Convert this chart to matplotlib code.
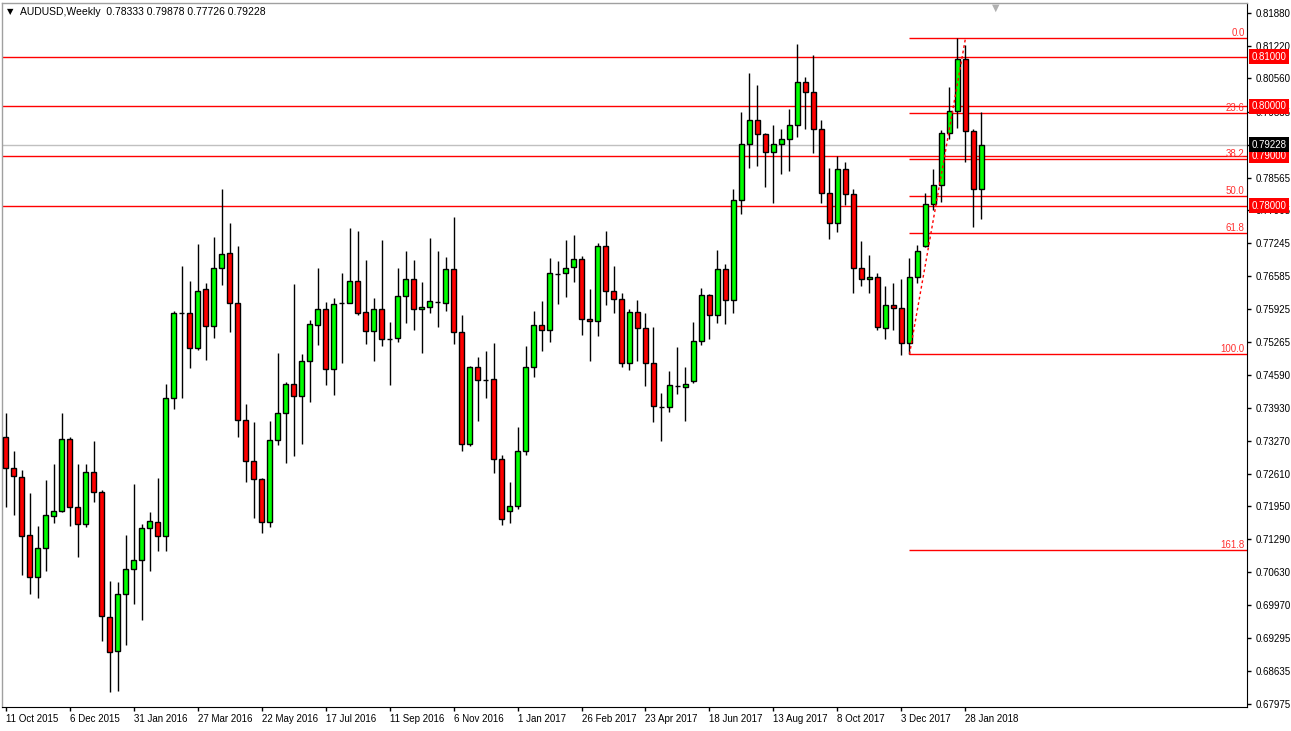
import matplotlib
matplotlib.use("Agg")
import matplotlib.pyplot as plt
import matplotlib.transforms as mtransforms

# weekly AUDUSD candles, first bar = week of 11 Oct 2015
opens = [0.7334, 0.7272, 0.7253, 0.7137, 0.7052, 0.7111, 0.7176, 0.7185, 0.7330, 0.7193,
         0.7159, 0.7265, 0.7223, 0.6972, 0.6903, 0.7018, 0.7068, 0.7086, 0.7151, 0.7163,
         0.7136, 0.7412, 0.7583, 0.7583, 0.7513, 0.7633, 0.7558, 0.7674, 0.7704, 0.7604,
         0.7368, 0.7287, 0.7249, 0.7164, 0.7328, 0.7382, 0.7442, 0.7416, 0.7487, 0.7559,
         0.7593, 0.7471, 0.7604, 0.7605, 0.7648, 0.7585, 0.7547, 0.7591, 0.7532, 0.7533,
         0.7618, 0.7652, 0.7593, 0.7597, 0.7607, 0.7605, 0.7672, 0.7545, 0.7321, 0.7475,
         0.7449, 0.7451, 0.7290, 0.7186, 0.7195, 0.7306, 0.7475, 0.7559, 0.7549, 0.7663,
         0.7664, 0.7676, 0.7692, 0.7571, 0.7567, 0.7718, 0.7628, 0.7612, 0.7483, 0.7585,
         0.7553, 0.7483, 0.7395, 0.7394, 0.7438, 0.7436, 0.7448, 0.7527, 0.7620, 0.7579,
         0.7672, 0.7610, 0.7811, 0.7923, 0.7972, 0.7944, 0.7907, 0.7925, 0.7935, 0.7962,
         0.8048, 0.8028, 0.7954, 0.7825, 0.7766, 0.7873, 0.7823, 0.7674, 0.7652, 0.7656,
         0.7553, 0.7601, 0.7595, 0.7523, 0.7656, 0.7718, 0.7803, 0.7841, 0.7946, 0.7990,
         0.8096, 0.7950, 0.78333]
highs = [0.7382, 0.7306, 0.7268, 0.7221, 0.7155, 0.7248, 0.7280, 0.7382, 0.7334, 0.7280,
         0.7280, 0.7326, 0.7228, 0.7044, 0.7043, 0.7138, 0.7240, 0.7159, 0.7183, 0.7251,
         0.7441, 0.7587, 0.7678, 0.7649, 0.7723, 0.7644, 0.7737, 0.7833, 0.7765, 0.7719,
         0.7401, 0.7364, 0.7251, 0.7366, 0.7503, 0.7445, 0.7642, 0.7502, 0.7569, 0.7674,
         0.7606, 0.7614, 0.7664, 0.7755, 0.7749, 0.7690, 0.7614, 0.7731, 0.7566, 0.7674,
         0.7709, 0.7690, 0.7646, 0.7735, 0.7709, 0.7697, 0.7777, 0.7579, 0.7477, 0.7495,
         0.7507, 0.7523, 0.7298, 0.7243, 0.7354, 0.7517, 0.7587, 0.7608, 0.7694, 0.7688,
         0.7730, 0.7740, 0.7698, 0.7633, 0.7724, 0.7748, 0.7678, 0.7624, 0.7593, 0.7610,
         0.7583, 0.7555, 0.7422, 0.7467, 0.7515, 0.7475, 0.7566, 0.7634, 0.7622, 0.7710,
         0.7682, 0.7833, 0.7988, 0.8067, 0.8043, 0.7946, 0.7962, 0.7954, 0.7995, 0.8125,
         0.8059, 0.8103, 0.7973, 0.7875, 0.7899, 0.7888, 0.7833, 0.7728, 0.7700, 0.7664,
         0.7638, 0.7644, 0.7652, 0.7694, 0.7720, 0.7825, 0.7874, 0.7952, 0.8038, 0.8137,
         0.8124, 0.7954, 0.79878]
lows = [0.7194, 0.7178, 0.7057, 0.7019, 0.7010, 0.7065, 0.7162, 0.7183, 0.7155, 0.7094,
        0.7154, 0.7204, 0.6923, 0.6822, 0.6824, 0.6915, 0.6999, 0.6966, 0.7065, 0.7106,
        0.7106, 0.7391, 0.7412, 0.7474, 0.7509, 0.7490, 0.7533, 0.7641, 0.7546, 0.7335,
        0.7243, 0.7172, 0.7142, 0.7154, 0.7318, 0.7283, 0.7296, 0.7321, 0.7405, 0.7520,
        0.7440, 0.7419, 0.7484, 0.7604, 0.7580, 0.7522, 0.7488, 0.7518, 0.7440, 0.7526,
        0.7563, 0.7550, 0.7504, 0.7584, 0.7556, 0.7587, 0.7522, 0.7307, 0.7317, 0.7367,
        0.7412, 0.7263, 0.7157, 0.7161, 0.7189, 0.7299, 0.7455, 0.7508, 0.7526, 0.7603,
        0.7617, 0.7646, 0.7540, 0.7488, 0.7538, 0.7601, 0.7584, 0.7476, 0.7470, 0.7488,
        0.7438, 0.7365, 0.7327, 0.7385, 0.7420, 0.7367, 0.7444, 0.7520, 0.7532, 0.7564,
        0.7562, 0.7584, 0.7784, 0.7876, 0.7880, 0.7838, 0.7806, 0.7864, 0.7870, 0.7939,
        0.7955, 0.7906, 0.7805, 0.7732, 0.7746, 0.7802, 0.7624, 0.7638, 0.7625, 0.7550,
        0.7531, 0.7549, 0.7500, 0.7501, 0.7644, 0.7716, 0.7791, 0.7807, 0.7935, 0.7956,
        0.7888, 0.7758, 0.77726]
closes = [0.7272, 0.7255, 0.7136, 0.7053, 0.7111, 0.7177, 0.7185, 0.7330, 0.7193, 0.7159,
          0.7265, 0.7223, 0.6974, 0.6901, 0.7018, 0.7068, 0.7086, 0.7151, 0.7165, 0.7136,
          0.7412, 0.7583, 0.7583, 0.7513, 0.7629, 0.7557, 0.7674, 0.7702, 0.7604, 0.7368,
          0.7287, 0.7249, 0.7164, 0.7328, 0.7382, 0.7442, 0.7416, 0.7487, 0.7561, 0.7593,
          0.7471, 0.7603, 0.7604, 0.7648, 0.7584, 0.7547, 0.7591, 0.7531, 0.7532, 0.7618,
          0.7652, 0.7593, 0.7597, 0.7608, 0.7607, 0.7672, 0.7545, 0.7321, 0.7475, 0.7449,
          0.7449, 0.7290, 0.7169, 0.7195, 0.7306, 0.7475, 0.7559, 0.7549, 0.7664, 0.7663,
          0.7674, 0.7692, 0.7571, 0.7567, 0.7718, 0.7628, 0.7612, 0.7483, 0.7585, 0.7553,
          0.7483, 0.7396, 0.7395, 0.7439, 0.7438, 0.7442, 0.7527, 0.7620, 0.7579, 0.7672,
          0.7610, 0.7811, 0.7923, 0.7972, 0.7944, 0.7907, 0.7925, 0.7935, 0.7962, 0.8048,
          0.8028, 0.7954, 0.7825, 0.7766, 0.7873, 0.7823, 0.7674, 0.7652, 0.7656, 0.7555,
          0.7601, 0.7595, 0.7523, 0.7656, 0.7708, 0.7803, 0.7841, 0.7946, 0.7990, 0.8096,
          0.7950, 0.7833, 0.79228]

date_labels = ["11 Oct 2015", "6 Dec 2015", "31 Jan 2016", "27 Mar 2016", "22 May 2016",
               "17 Jul 2016", "11 Sep 2016", "6 Nov 2016", "1 Jan 2017", "26 Feb 2017",
               "23 Apr 2017", "18 Jun 2017", "13 Aug 2017", "8 Oct 2017", "3 Dec 2017",
               "28 Jan 2018"]
price_ticks = [0.81880, 0.81220, 0.80560, 0.79885, 0.79225, 0.78565, 0.77905, 0.77245,
               0.76585, 0.75925, 0.75265, 0.74590, 0.73930, 0.73270, 0.72610, 0.71950,
               0.71290, 0.70630, 0.69970, 0.69295, 0.68635, 0.67975]
levels = [0.81, 0.80, 0.79, 0.78]
last_price = 0.79228
fib_low, fib_high = 0.7501, 0.8137
fib_start, fib_end = 113, 120
fib_ratios = [0.0, 23.6, 38.2, 50.0, 61.8, 100.0, 161.8]

W, H = 1291, 731
fig = plt.figure(figsize=(W / 100, H / 100), dpi=100)
fig.patch.set_facecolor("white")
ax = fig.add_axes([2 / W, 24 / H, 1245 / W, 704 / H])
ax.set_facecolor("white")

n = len(opens)
ax.set_xlim(-0.44, 155.19)
ax.set_ylim(0.67912, 0.82077)

# horizontal support / resistance lines and bid line
ax.axhline(last_price, color="#c0c0c0", lw=1, zorder=1)
for lv in levels:
    ax.axhline(lv, color="red", lw=1, zorder=1)

# fibonacci retracement
btr = mtransforms.blended_transform_factory(ax.transAxes, ax.transData)
rng = fib_high - fib_low
for r in fib_ratios:
    y = fib_high - rng * r / 100
    ax.hlines(y, fib_start, 155.19, color="red", lw=1, zorder=1)
    ax.text(0.998, y, "%.1f" % r, transform=btr, ha="right", va="bottom",
            fontsize=7, color="#ff3030", family="Liberation Sans")
ax.plot([fib_start, fib_end], [fib_low, fib_high], color="red", lw=1, ls=(0, (2, 2)), zorder=4)

# candles
for i in range(n):
    o, h, l, c = opens[i], highs[i], lows[i], closes[i]
    ax.vlines(i, l, h, color="black", lw=1, zorder=2)
    col = "#00ff00" if c > o else "#ff0000"
    ax.bar(i, abs(c - o), bottom=min(o, c), width=0.58, color=col, edgecolor="black", linewidth=1, zorder=3)

# axes styling
for s in ["left", "top"]:
    ax.spines[s].set_color("#a0a0a0")
    ax.spines[s].set_linewidth(1)
ax.spines["right"].set_color("black")
ax.spines["bottom"].set_color("black")

ax.yaxis.tick_right()
ax.set_yticks(price_ticks)
# the 0.79225 label sits fully behind the bid box, so leave its text out
ax.set_yticklabels(["" if p == 0.79225 else "%.5f" % p for p in price_ticks])
ax.tick_params(axis="y", direction="out", length=3, width=1, pad=3, labelsize=7, colors="black")
ax.set_xticks(list(range(0, 121, 8)))
ax.set_xticklabels(date_labels)
ax.tick_params(axis="x", direction="out", length=3, width=1, pad=2, labelsize=7)
for t in ax.get_xticklabels() + ax.get_yticklabels():
    t.set_family("Liberation Sans")
for t in ax.get_xticklabels():
    t.set_ha("left")

# price labels on the scale
for lv in levels:
    ax.text(1.0035, lv, "%.5f" % lv, transform=btr, ha="left", va="center", fontsize=7,
            color="white", family="Liberation Sans", clip_on=False, zorder=6,
            bbox=dict(boxstyle="square,pad=0.25", fc="red", ec="none"))
ax.text(1.0035, last_price, "%.5f" % last_price, transform=btr, ha="left", va="center", fontsize=7,
        color="white", family="Liberation Sans", clip_on=False, zorder=7,
        bbox=dict(boxstyle="square,pad=0.25", fc="black", ec="none"))

# header
fig.text(7 / W, 1 - 12 / H, "\u25bc", fontsize=6, color="black", va="center", family="DejaVu Sans")
fig.text(20 / W, 1 - 12 / H, "AUDUSD,Weekly  0.78333 0.79878 0.77726 0.79228", fontsize=7.5,
         color="black", va="center", family="Liberation Sans")
fig.text(996 / W, 1 - 8 / H, "\u25bc", fontsize=7, color="#b0b0b0", ha="center", va="center")

fig.savefig("out.png", dpi=100)
